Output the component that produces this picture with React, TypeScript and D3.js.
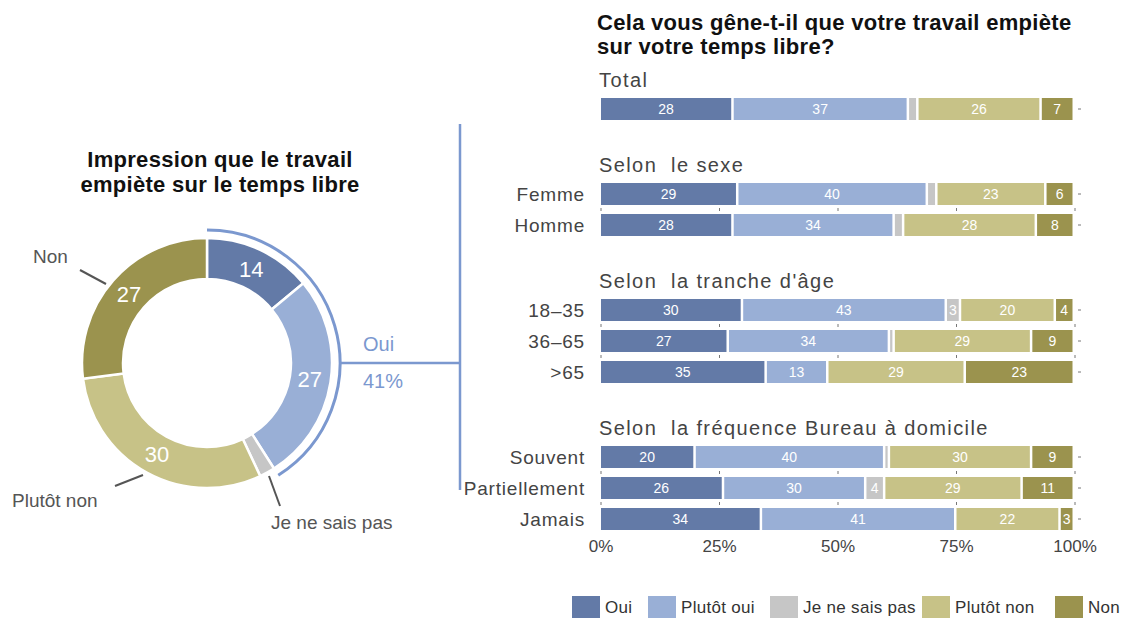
import React from 'react';
import * as d3 from 'd3';

// answer categories
const answers = ['Oui', 'Plutôt oui', 'Je ne sais pas', 'Plutôt non', 'Non'];
const colors = ['#637aa7', '#99afd6', '#c6c6c6', '#c7c287', '#9b934e'];

// donut (left)
const donutValues = [14, 27, 2, 30, 27];

// stacked bars (right)
const groups = ['Total', 'Selon  le sexe', "Selon  la tranche d'âge", 'Selon  la fréquence Bureau à domicile'];
const rowLabels = ['', 'Femme', 'Homme', '18–35', '36–65', '>65', 'Souvent', 'Partiellement', 'Jamais'];
const rowGroup = [0, 1, 1, 2, 2, 2, 3, 3, 3];
const ouiVals = [28, 29, 28, 30, 27, 35, 20, 26, 34];
const plutotOuiVals = [37, 40, 34, 43, 34, 13, 40, 30, 41];
const nspVals = [2, 2, 2, 3, 1, 0, 1, 4, 0];
const plutotNonVals = [26, 23, 28, 20, 29, 29, 30, 29, 22];
const nonVals = [7, 6, 8, 4, 9, 23, 9, 11, 3];
const xTicks = [0, 25, 50, 75, 100];

const font = '"Liberation Sans", Arial, sans-serif';

function Donut() {
  const cx = 207, cy = 363;
  const pie = d3.pie<number>().sort(null).value(d => d);
  const arcs = pie(donutValues);
  const arc = d3.arc<d3.PieArcDatum<number>>().innerRadius(84).outerRadius(125);
  const labelArc = d3.arc<d3.PieArcDatum<number>>().innerRadius(104).outerRadius(104);
  const ouiShare = donutValues[0] + donutValues[1];
  const hiEnd = (ouiShare / 100) * 2 * Math.PI;
  const hiArc = d3.arc()({ innerRadius: 133, outerRadius: 133, startAngle: 0, endAngle: hiEnd }) as string;
  const blue = '#7b98cf';
  return (
    <g>
      <g fontSize={22} fontWeight="bold" fill="#111" letterSpacing={0.3} textAnchor="middle">
        <text x={220} y={167}>Impression que le travail</text>
        <text x={220} y={192}>empiète sur le temps libre</text>
      </g>
      <g transform={`translate(${cx},${cy})`}>
        {arcs.map((a, i) => (
          <path key={i} d={arc(a) as string} fill={colors[i]} stroke="#fff" strokeWidth={2.5} />
        ))}
        {arcs.map((a, i) => {
          if (a.data < 5) return null;
          const [lx, ly] = labelArc.centroid(a);
          return (
            <text key={i} x={lx} y={ly + 8} textAnchor="middle" fontSize={22} fill="#fff">{a.data}</text>
          );
        })}
        <path d={hiArc} fill="none" stroke={blue} strokeWidth={3} />
      </g>
      <line x1={cx + 134} x2={460} y1={cy} y2={cy} stroke={blue} strokeWidth={2.5} />
      <line x1={460} x2={460} y1={124} y2={490} stroke={blue} strokeWidth={2.5} />
      <text x={363} y={351} fontSize={20} fill={blue}>Oui</text>
      <text x={363} y={388} fontSize={20} fill={blue}>{ouiShare}%</text>
      <g fill="#555" fontSize={19}>
        <text x={33} y={263}>Non</text>
        <text x={12} y={507}>Plutôt non</text>
        <text x={271} y={529}>Je ne sais pas</text>
      </g>
      <g stroke="#555" strokeWidth={2}>
        <line x1={80} y1={270} x2={106} y2={284} />
        <line x1={115} y1={486} x2={143} y2={475} />
        <line x1={269} y1={476} x2={280} y2={506} />
      </g>
    </g>
  );
}

function Bars() {
  const x = d3.scaleLinear().domain([0, 100]).range([601, 1075]);
  const series = [ouiVals, plutotOuiVals, nspVals, plutotNonVals, nonVals];
  const rowY = (i: number) => 109 + i * 31 + rowGroup[i] * 54;
  const barH = 22;
  const gap = 2.5;
  return (
    <g>
      <g fontSize={22} fontWeight="bold" fill="#111" letterSpacing={0.3}>
        <text x={597} y={30}>Cela vous gêne-t-il que votre travail empiète</text>
        <text x={597} y={54}>sur votre temps libre?</text>
      </g>
      {groups.map((g, gi) => {
        const first = rowGroup.indexOf(gi);
        return (
          <text key={gi} x={599} y={rowY(first) - 22} fontSize={20} fill="#444" letterSpacing={1.4} style={{ whiteSpace: 'pre' }}>{g}</text>
        );
      })}
      {rowLabels.map((lab, i) => {
        const cy = rowY(i);
        let cum = 0;
        return (
          <g key={i}>
            {lab && <text x={585} y={cy + 7} textAnchor="end" fontSize={19} fill="#444" letterSpacing={0.8}>{lab}</text>}
            {series.map((s, si) => {
              const v = s[i];
              const x0 = x(cum);
              cum += v;
              if (v === 0) return null;
              const w = Math.max(x(cum) - x0 - gap, 1.5);
              return (
                <g key={si}>
                  <rect x={x0} y={cy - barH / 2} width={w} height={barH} fill={colors[si]} />
                  {v >= 3 && (
                    <text x={x0 + w / 2} y={cy + 5} textAnchor="middle" fontSize={14} fill="#fff">{v}</text>
                  )}
                </g>
              );
            })}
            <line x1={1078} x2={1081} y1={cy} y2={cy} stroke="#777" strokeWidth={1} />
            {i < rowLabels.length - 1 && rowGroup[i + 1] === rowGroup[i] &&
              xTicks.map(t => (
                <line key={t} x1={x(t)} x2={x(t)} y1={cy + 14} y2={cy + 17} stroke="#777" strokeWidth={1} />
              ))}
          </g>
        );
      })}
      {xTicks.map(t => (
        <text key={t} x={x(t)} y={552} textAnchor="middle" fontSize={17} fill="#444">{t}%</text>
      ))}
    </g>
  );
}

function Legend() {
  const xs = [572, 648, 770, 922, 1055];
  return (
    <g>
      {answers.map((a, i) => (
        <g key={a} transform={`translate(${xs[i]},596)`}>
          <rect width={28} height={22} fill={colors[i]} />
          <text x={33} y={17} fontSize={17} fill="#333" letterSpacing={0.3}>{a}</text>
        </g>
      ))}
    </g>
  );
}

export default function App() {
  return (
    <svg width={1127} height={619} style={{ position: 'absolute', left: 0, top: 0, background: '#fff' }} fontFamily={font}>
      <Donut />
      <Bars />
      <Legend />
    </svg>
  );
}
